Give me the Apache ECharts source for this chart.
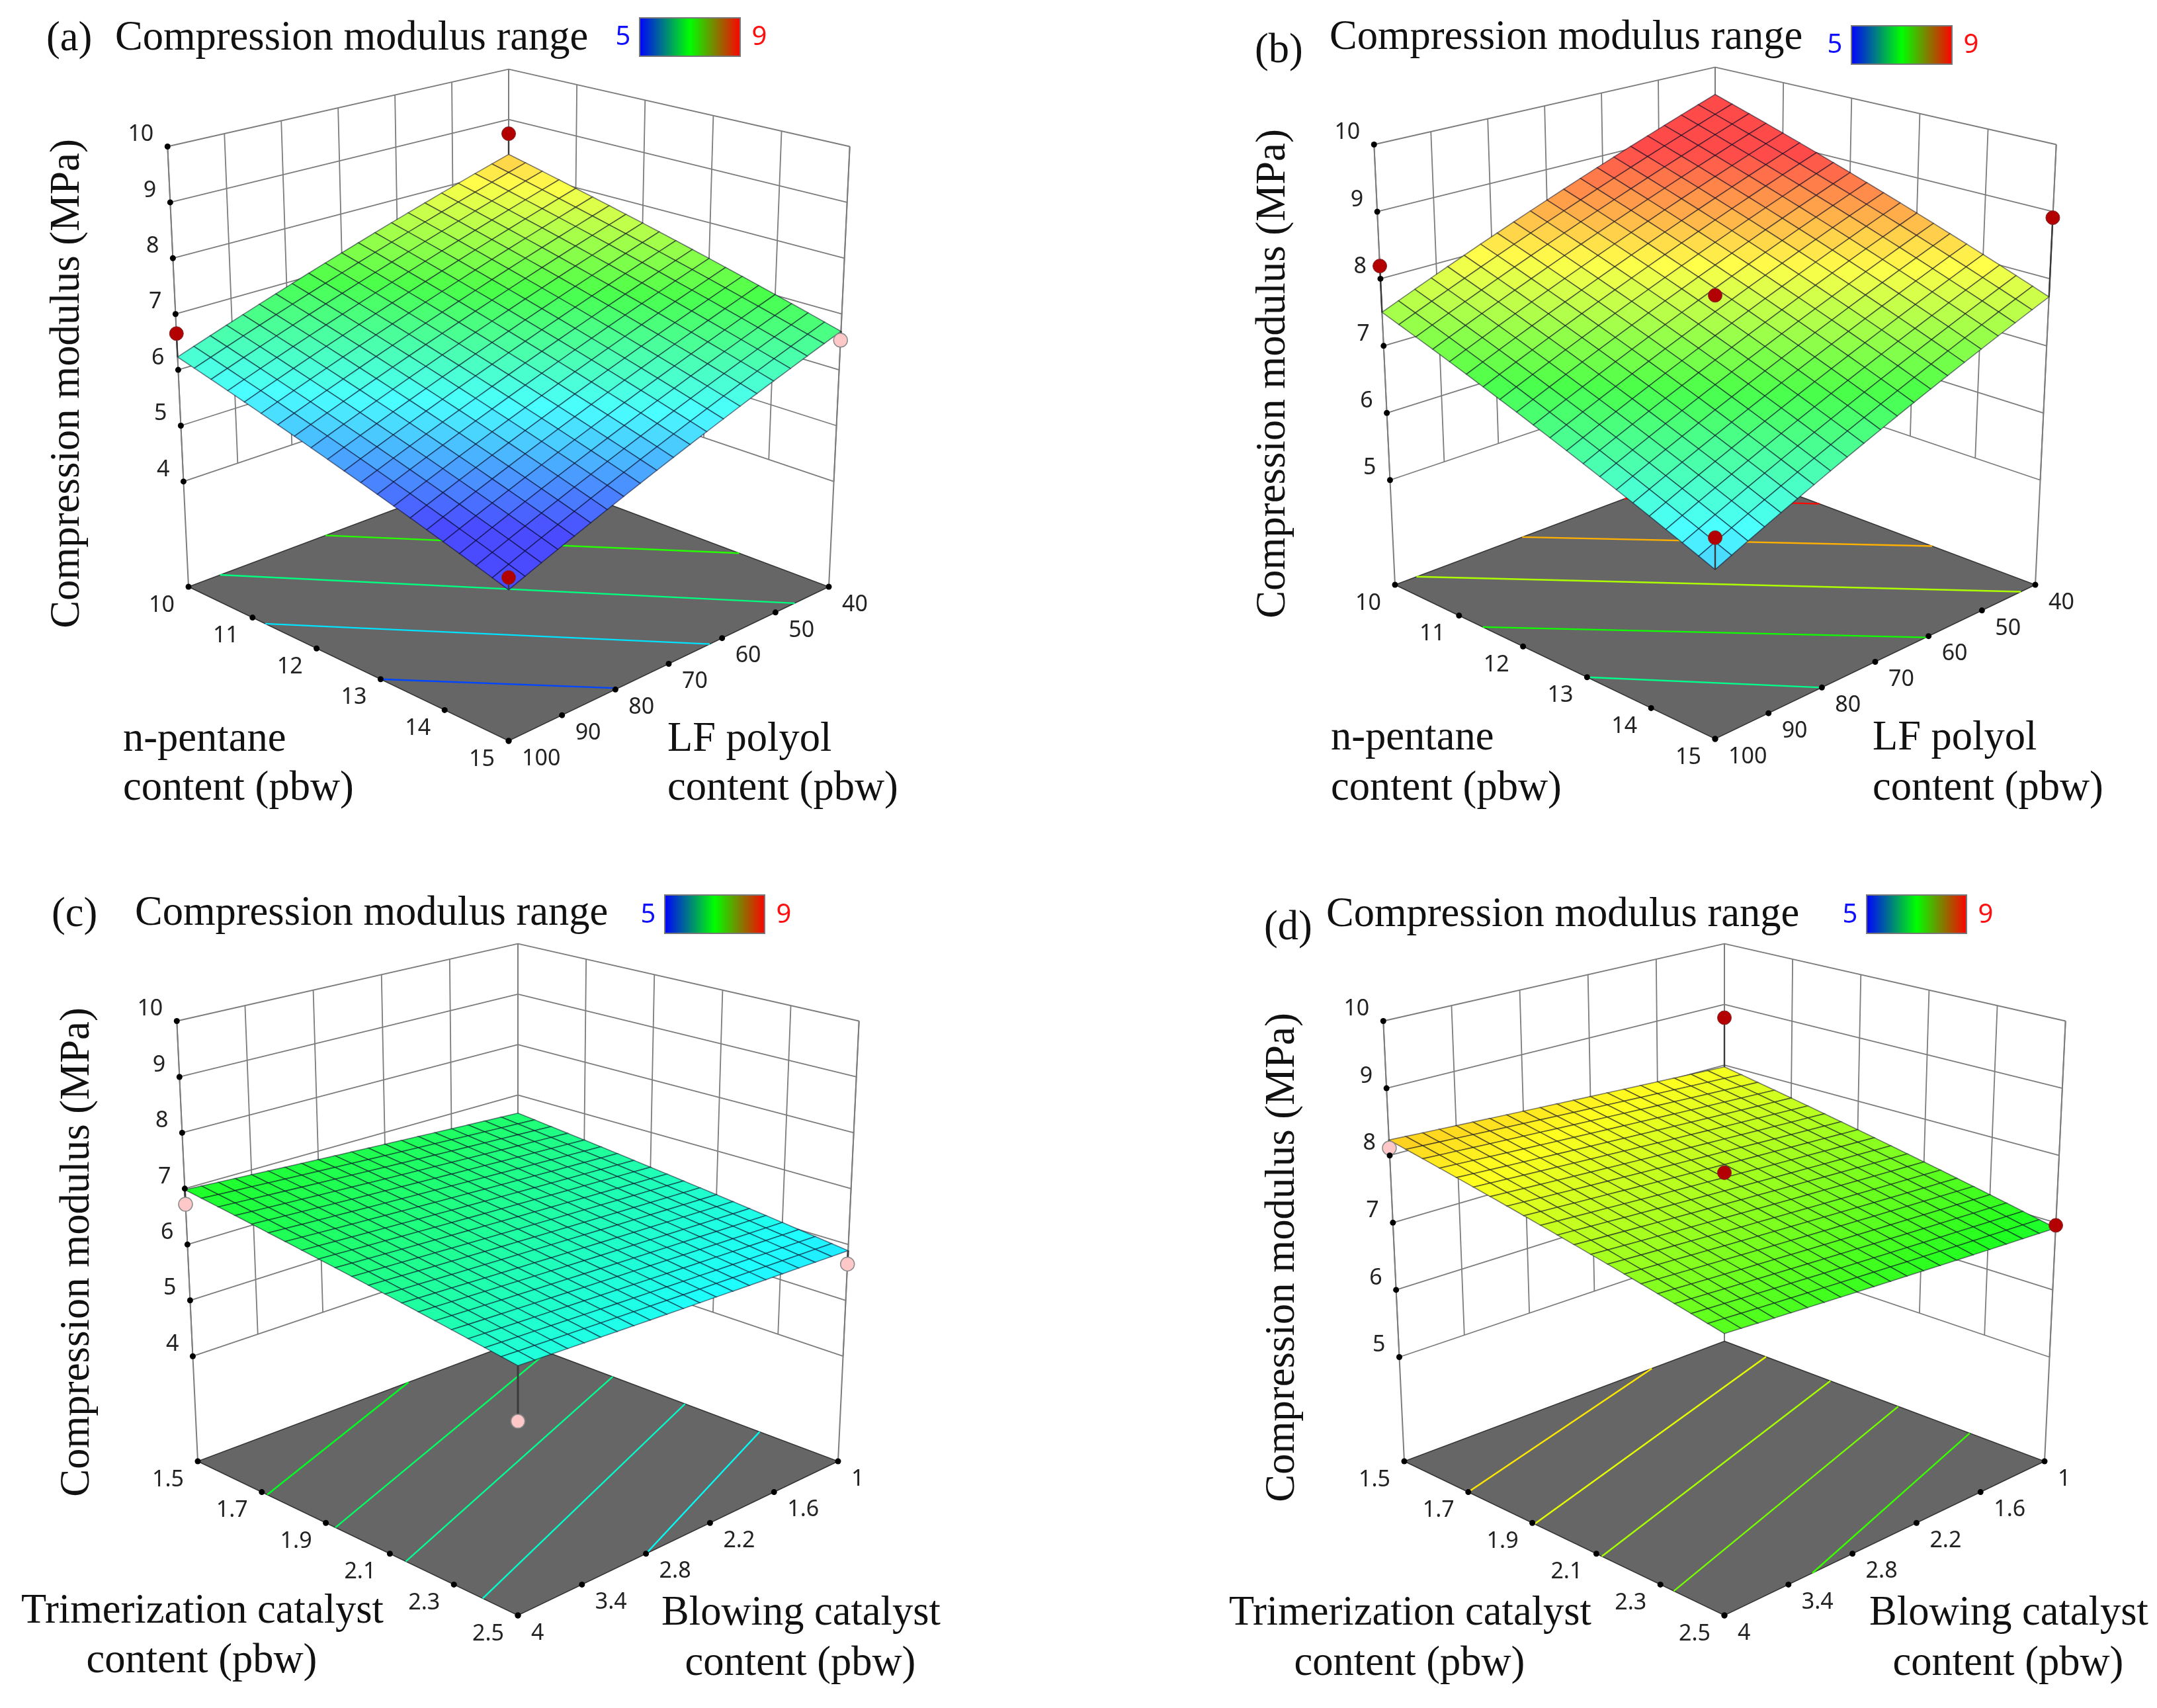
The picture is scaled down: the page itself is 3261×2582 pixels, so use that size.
<!DOCTYPE html>
<html>
<head>
<meta charset="utf-8">
<style>
  html, body { margin: 0; background: #fff; }
  #chart { width: 3261px; height: 2582px; }
</style>
<script src="https://cdn.jsdelivr.net/npm/echarts@6/dist/echarts.min.js"></script>
</head>
<body>
<div id="chart"></div>
<script>
// ======================
// DATA
// ======================

const pentaneTicks = [10, 11, 12, 13, 14, 15];
const polyolTicks = [40, 50, 60, 70, 80, 90, 100];
const trimerTicks = [1.5, 1.7, 1.9, 2.1, 2.3, 2.5];
const blowingTicks = [1, 1.6, 2.2, 2.8, 3.4, 4];
const modulusTicksLow = [4, 5, 6, 7, 8, 9, 10];
const modulusTicksHigh = [5, 6, 7, 8, 9, 10];

// surface height read at its four corners: back, right, front, left
const cornersA = [8.31, 6.69, 4.56, 6.23];
const cornersB = [9.55, 7.73, 5.72, 7.50];
const cornersC = [6.64, 5.89, 6.16, 6.98];
const cornersD = [7.97, 6.92, 7.24, 8.23];

// design points: factor 1, factor 2, modulus, stem drawn (1) or not (0)
const pointsA = [[10, 40, 8.72, 1], [10, 100, 6.65, 1], [15, 100, 4.76, 1], [15, 40, 6.53, 1]];
const pointsB = [[10, 100, 8.19, 1], [15, 40, 8.91, 1], [12.5, 70, 7.87, 0], [15, 100, 6.15, 1]];
const pointsC = [[1.5, 4, 6.72, 1], [2.5, 1, 5.65, 1], [2.5, 4, 5.26, 1]];
const pointsD = [[1.5, 1, 8.78, 1], [1.5, 4, 8.11, 1], [2, 2.5, 7.86, 0], [2.5, 1, 6.96, 1]];

// floor contours: level, then both ends as factor 1, factor 2
const contoursA = [
    [5.27, 13, 100, 15, 79.5],
    [5.89, 11.2, 100, 15, 62.3],
    [6.5, 10, 94.07, 15, 46.4],
    [7.15, 10, 74.35, 13.6, 40]
];
const contoursB = [
    [6.45, 13, 100, 15, 80],
    [7.06, 11.37, 100, 15, 60.5],
    [7.68, 10, 95.97, 15, 42.7],
    [8.31, 10, 76.16, 13.39, 40],
    [8.97, 10, 57, 11.63, 40]
];
const contoursC = [
    [6.87, 1.717, 4, 1.5, 2.025],
    [6.62, 1.93, 4, 1.591, 1],
    [6.43, 2.15, 4, 1.796, 1],
    [6.2, 2.39, 4, 2.022, 1],
    [6.03, 2.5, 2.8, 2.255, 1]
];
const contoursD = [
    [8.09, 1.7, 4, 1.5, 1.68],
    [7.9, 1.907, 4, 1.63, 1],
    [7.65, 2.117, 4, 1.831, 1],
    [7.45, 2.342, 4, 2.043, 1],
    [7.22, 2.5, 3.176, 2.266, 1]
];

// ======================
// COLOURS / BOX VIEW
// ======================

const colorLevels = [5, 6, 7, 8, 9];
const rampColors = [[0, 0, 255], [0, 255, 255], [0, 255, 0], [255, 255, 0], [255, 0, 0]];

// the box's corners on the projection plane, in order back, right, front, left
const boxFloor = [[0, 0.375], [1, 0], [0, -0.4814], [-1, 0]];
const boxTop = [[0, 1.6167], [1.0655, 1.375], [0, 1.04], [-1.0655, 1.375]];
const MESH = 20;
const SCALE = 484;
const SERIF = '"Liberation Serif", "Times New Roman", serif';
const SANS = '"Noto Sans", sans-serif';

const panels = [
    {
        tag: '(a)', cx: 769, cy: 887, floor: 2.115, wash: 0.29,
        x1Ticks: pentaneTicks, x2Ticks: polyolTicks, zTicks: modulusTicksLow,
        corners: cornersA, points: pointsA, contours: contoursA,
        tagPos: [70, 60], titlePos: [174, 59], bar: [967, 27, 152, 58], barTextY: 57,
        zTitlePos: [103, 580],
        x1Title: [['n-pentane', 186, 1119], ['content (pbw)', 186, 1193]],
        x2Title: [['LF polyol', 1009, 1119], ['content (pbw)', 1009, 1193]]
    },
    {
        tag: '(b)', cx: 2593, cy: 884, floor: 3.44, wash: 0.29,
        x1Ticks: pentaneTicks, x2Ticks: polyolTicks, zTicks: modulusTicksHigh,
        corners: cornersB, points: pointsB, contours: contoursB,
        tagPos: [1897, 78], titlePos: [2010, 58], bar: [2799, 39, 152, 58], barTextY: 69,
        zTitlePos: [1926, 565],
        x1Title: [['n-pentane', 2012, 1117], ['content (pbw)', 2012, 1193]],
        x2Title: [['LF polyol', 2831, 1117], ['content (pbw)', 2831, 1193]]
    },
    {
        tag: '(c)', cx: 783, cy: 2209, floor: 2.12, wash: 0.12,
        x1Ticks: trimerTicks, x2Ticks: blowingTicks, zTicks: modulusTicksLow,
        corners: cornersC, points: pointsC, contours: contoursC,
        tagPos: [78, 1384], titlePos: [204, 1382], bar: [1005, 1353, 151, 58], barTextY: 1384,
        zTitlePos: [118, 1893],
        x1Title: [['Trimerization catalyst', 306, 2437, 'center'], ['content (pbw)', 305, 2512, 'center']],
        x2Title: [['Blowing catalyst', 1211, 2440, 'center'], ['content (pbw)', 1210, 2516, 'center']]
    },
    {
        tag: '(d)', cx: 2607, cy: 2209, floor: 3.45, wash: 0.12,
        x1Ticks: trimerTicks, x2Ticks: blowingTicks, zTicks: modulusTicksHigh,
        corners: cornersD, points: pointsD, contours: contoursD,
        tagPos: [1911, 1404], titlePos: [2005, 1384], bar: [2822, 1353, 151, 58], barTextY: 1384,
        zTitlePos: [1940, 1901],
        x1Title: [['Trimerization catalyst', 2132, 2440, 'center'], ['content (pbw)', 2131, 2516, 'center']],
        x2Title: [['Blowing catalyst', 3037, 2440, 'center'], ['content (pbw)', 3036, 2516, 'center']]
    }
];

// ======================
// HELPERS
// ======================

function colorAt(z, wash) {
    const v = Math.min(Math.max(z, colorLevels[0]), colorLevels[colorLevels.length - 1]);
    const i = Math.min(Math.floor(v - colorLevels[0]), colorLevels.length - 2);
    const f = v - colorLevels[i];
    const c = rampColors[i].map((a, k) => {
        const raw = a + (rampColors[i + 1][k] - a) * f;
        return Math.round(raw + (255 - raw) * wash);
    });
    return `rgb(${c[0]},${c[1]},${c[2]})`;
}

function unit(ticks, v) {
    return (v - ticks[0]) / (ticks[ticks.length - 1] - ticks[0]);
}

// from the unit box (s, t, modulus) to the panel's projection plane
function projectUnit(panel, s, t, z) {
    const h = (z - panel.floor) / (10 - panel.floor);
    const weights = [(1 - s) * (1 - t), s * (1 - t), s * t, (1 - s) * t];
    const out = [0, 0];
    weights.forEach((w, i) => {
        out[0] += w * (boxFloor[i][0] + (boxTop[i][0] - boxFloor[i][0]) * h);
        out[1] += w * (boxFloor[i][1] + (boxTop[i][1] - boxFloor[i][1]) * h);
    });
    return out;
}

// The surface is a flat response sheet: it comes from the four read corners,
// the mesh is only how the sheet gets rendered.
function sheetHeight(c, s, t) {
    return c[0] * (1 - s) * (1 - t) + c[1] * s * (1 - t) + c[2] * s * t + c[3] * (1 - s) * t;
}

function lineEl(a, b, color, width) {
    return {
        type: 'line',
        shape: { x1: a[0], y1: a[1], x2: b[0], y2: b[1] },
        style: { stroke: color, lineWidth: width }
    };
}

function textEl(text, x, y, align, font, fill) {
    return { type: 'text', style: { text: String(text), x, y, align, verticalAlign: 'middle', font, fill } };
}

// ======================
// SERIES
// ======================

function buildSeries(panel, index) {
    const base = {
        type: 'custom',
        coordinateSystem: 'cartesian2d',
        xAxisIndex: index,
        yAxisIndex: index,
        silent: true,
        animation: false,
        clip: false,
        progressive: 0
    };
    const { x1Ticks, x2Ticks, zTicks, corners, floor, wash } = panel;
    const zLow = zTicks[0];
    const zTop = zTicks[zTicks.length - 1];

    const toPixel = (api, s, t, z) => api.coord(projectUnit(panel, s, t, z));

    const walls = {
        ...base,
        data: [[0, 0]],
        renderItem: (params, api) => {
            const children = [];
            const gray = '#7c7c7c';
            zTicks.forEach(z => {
                children.push(lineEl(toPixel(api, 0, 1, z), toPixel(api, 0, 0, z), gray, 1.8));
                children.push(lineEl(toPixel(api, 0, 0, z), toPixel(api, 1, 0, z), gray, 1.8));
            });
            x2Ticks.forEach(v => {
                const t = unit(x2Ticks, v);
                children.push(lineEl(toPixel(api, 0, t, zLow), toPixel(api, 0, t, zTop), gray, 1.8));
            });
            x1Ticks.forEach(v => {
                const s = unit(x1Ticks, v);
                children.push(lineEl(toPixel(api, s, 0, zLow), toPixel(api, s, 0, zTop), gray, 1.8));
            });
            children.push(lineEl(toPixel(api, 0, 1, floor), toPixel(api, 0, 1, zTop), gray, 2));
            children.push(lineEl(toPixel(api, 1, 0, floor), toPixel(api, 1, 0, zTop), gray, 2));
            children.push(lineEl(toPixel(api, 0, 0, floor), toPixel(api, 0, 0, zTop), gray, 2));
            return { type: 'group', children };
        }
    };

    const floorPlane = {
        ...base,
        data: [[0, 0]],
        renderItem: (params, api) => ({
            type: 'polygon',
            shape: {
                points: [[0, 0], [1, 0], [1, 1], [0, 1]].map(p => toPixel(api, p[0], p[1], floor))
            },
            style: { fill: '#666666', stroke: '#333333', lineWidth: 1.5 }
        })
    };

    const contours = {
        ...base,
        data: panel.contours,
        renderItem: (params, api) => {
            const a = toPixel(api, unit(x1Ticks, api.value(1)), unit(x2Ticks, api.value(2)), floor);
            const b = toPixel(api, unit(x1Ticks, api.value(3)), unit(x2Ticks, api.value(4)), floor);
            return lineEl(a, b, colorAt(api.value(0), 0), 2.4);
        }
    };

    const surface = {
        ...base,
        data: [corners],
        renderItem: (params, api) => {
            const c = [0, 1, 2, 3].map(i => api.value(i));
            const children = [];
            for (let i = 0; i < MESH; i++) {
                for (let j = 0; j < MESH; j++) {
                    const quad = [[i, j], [i + 1, j], [i + 1, j + 1], [i, j + 1]].map(q => {
                        const s = q[0] / MESH;
                        const t = q[1] / MESH;
                        return toPixel(api, s, t, sheetHeight(c, s, t));
                    });
                    const mid = sheetHeight(c, (i + 0.5) / MESH, (j + 0.5) / MESH);
                    children.push({
                        type: 'polygon',
                        shape: { points: quad },
                        style: { fill: colorAt(mid, wash), stroke: 'rgba(0,0,30,0.5)', lineWidth: 1.6 }
                    });
                }
            }
            return { type: 'group', children };
        }
    };

    const points = {
        ...base,
        data: panel.points,
        renderItem: (params, api) => {
            const s = unit(x1Ticks, api.value(0));
            const t = unit(x2Ticks, api.value(1));
            const z = api.value(2);
            const onSheet = sheetHeight(corners, s, t);
            const p = toPixel(api, s, t, z);
            const above = z >= onSheet;
            const children = [{
                type: 'circle',
                shape: { cx: p[0], cy: p[1], r: 10.5 },
                style: above
                    ? { fill: '#b30000', stroke: '#7a2a2a', lineWidth: 1 }
                    : { fill: '#ffc8c8', stroke: '#8a8a8a', lineWidth: 1.5 }
            }];
            if (api.value(3)) {
                children.unshift(lineEl(p, toPixel(api, s, t, onSheet), '#3a3a3a', above ? 2.4 : 3));
            }
            return { type: 'group', children };
        }
    };

    const tickDot = at => ({
        type: 'circle',
        shape: { cx: at[0], cy: at[1], r: 4.5 },
        style: { fill: '#000' }
    });

    const zAxis = {
        ...base,
        data: zTicks.map(v => [v, 0]),
        renderItem: (params, api) => {
            const z = api.value(0);
            const at = toPixel(api, 0, 1, z);
            return {
                type: 'group',
                children: [
                    tickDot(at),
                    textEl(z, at[0] - 21, at[1] - 18, 'right', `34px ${SANS}`, '#222')
                ]
            };
        }
    };

    const x1Axis = {
        ...base,
        data: x1Ticks.map(v => [v, 0]),
        renderItem: (params, api) => {
            const v = api.value(0);
            const at = toPixel(api, unit(x1Ticks, v), 1, floor);
            return {
                type: 'group',
                children: [
                    tickDot(at),
                    textEl(v, at[0] - 21, at[1] + 28, 'right', `34px ${SANS}`, '#222')
                ]
            };
        }
    };

    const x2Axis = {
        ...base,
        data: x2Ticks.map(v => [v, 0]),
        renderItem: (params, api) => {
            const v = api.value(0);
            const at = toPixel(api, 1, unit(x2Ticks, v), floor);
            return {
                type: 'group',
                children: [
                    tickDot(at),
                    textEl(v, at[0] + 20, at[1] + 27, 'left', `34px ${SANS}`, '#222')
                ]
            };
        }
    };

    return [walls, floorPlane, contours, surface, points, zAxis, x1Axis, x2Axis];
}

// ======================
// TITLES / COLOUR BARS
// ======================

function buildGraphics(panel) {
    const titleFont = `62.5px ${SERIF}`;
    const [bx, by, bw, bh] = panel.bar;
    const place = (text, x, y, align) => ({
        type: 'text',
        style: { text, x, y, align, verticalAlign: 'middle', font: titleFont, fill: '#111' }
    });
    const labels = panel.x1Title.concat(panel.x2Title).map(l => place(l[0], l[1], l[2], l[3] || 'left'));
    return [
        place(panel.tag, panel.tagPos[0], panel.tagPos[1], 'left'),
        place('Compression modulus range', panel.titlePos[0], panel.titlePos[1], 'left'),
        {
            type: 'text',
            x: panel.zTitlePos[0],
            y: panel.zTitlePos[1],
            rotation: Math.PI / 2,
            style: {
                text: 'Compression modulus (MPa)', x: 0, y: 0,
                align: 'center', verticalAlign: 'middle', font: `62.8px ${SERIF}`, fill: '#111'
            }
        },
        {
            type: 'rect',
            shape: { x: bx, y: by, width: bw, height: bh },
            style: {
                fill: new echarts.graphic.LinearGradient(0, 0, 1, 0, [
                    { offset: 0, color: '#0000ff' },
                    { offset: 0.5, color: '#00ff00' },
                    { offset: 1, color: '#ff0000' }
                ]),
                stroke: '#777',
                lineWidth: 2
            }
        },
        {
            type: 'text',
            style: {
                text: '5', x: bx - 25, y: panel.barTextY, align: 'center', verticalAlign: 'middle',
                font: `40px ${SANS}`, fill: '#1010ff'
            }
        },
        {
            type: 'text',
            style: {
                text: '9', x: bx + bw + 29, y: panel.barTextY, align: 'center', verticalAlign: 'middle',
                font: `40px ${SANS}`, fill: '#ff1010'
            }
        }
    ].concat(labels);
}

// ======================
// INIT CHART
// ======================

const chart = echarts.init(document.getElementById('chart'));

// each panel's plane runs -1.1..1.1 wide and -0.6..1.8 high, at one scale
chart.setOption({
    backgroundColor: '#ffffff',
    animation: false,
    grid: panels.map(p => ({
        left: p.cx - 1.1 * SCALE,
        width: 2.2 * SCALE,
        top: p.cy - 1.8 * SCALE,
        height: 2.4 * SCALE
    })),
    xAxis: panels.map((p, i) => ({ type: 'value', gridIndex: i, min: -1.1, max: 1.1, show: false })),
    yAxis: panels.map((p, i) => ({ type: 'value', gridIndex: i, min: -0.6, max: 1.8, show: false })),
    series: panels.flatMap(buildSeries),
    graphic: panels.flatMap(buildGraphics)
});
</script>
</body>
</html>
